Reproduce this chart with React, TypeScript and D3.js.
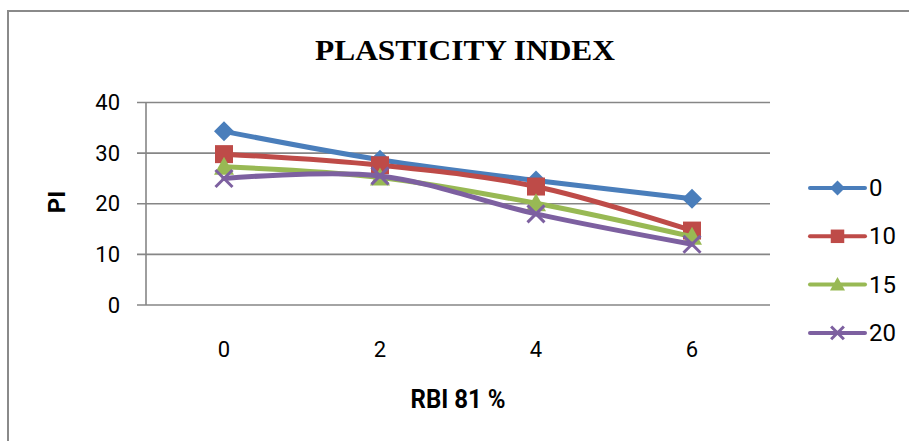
import React from "react";
import * as d3 from "d3";

const categories = ["0", "2", "4", "6"];
const seriesNames = ["0", "10", "15", "20"];
const series0 = [34.3, 28.7, 24.6, 21.0];
const series10 = [29.8, 27.6, 23.4, 14.7];
const series15 = [27.3, 25.2, 20.1, 13.5];
const series20 = [25.0, 25.5, 18.0, 12.0];
const yTicks = [0, 10, 20, 30, 40];
const colors = ["#4A7EBB", "#BE4B48", "#98B954", "#7D60A0"];
const markers = ["diamond", "square", "triangle", "x"];

const allSeries = [series0, series10, series15, series20];

function Marker({ type, x, y, size, color }: { type: string; x: number; y: number; size: number; color: string }) {
  const h = size / 2;
  if (type === "diamond") {
    return <path d={`M${x},${y - h}L${x + h},${y}L${x},${y + h}L${x - h},${y}Z`} fill={color} />;
  }
  if (type === "square") {
    const s = h * 0.9;
    return <rect x={x - s} y={y - s} width={2 * s} height={2 * s} fill={color} />;
  }
  if (type === "triangle") {
    return <path d={`M${x},${y - h}L${x + h},${y + h * 0.8}L${x - h},${y + h * 0.8}Z`} fill={color} />;
  }
  const s = h * 0.85;
  return (
    <path
      d={`M${x - s},${y - s}L${x + s},${y + s}M${x - s},${y + s}L${x + s},${y - s}`}
      stroke={color}
      strokeWidth={3}
      fill="none"
    />
  );
}

export default function App() {
  const W = 909;
  const H = 441;
  const left = 146;
  const right = 770;
  const top = 102.5;
  const bottom = 305;

  const x = d3.scaleBand<string>().domain(categories).range([left, right]);
  const y = d3.scaleLinear().domain([0, 40]).range([bottom, top]);
  const cx = (c: string) => (x(c) as number) + x.bandwidth() / 2;

  const line = d3
    .line<number>()
    .x((_, i) => cx(categories[i]))
    .y((d) => y(d))
    .curve(d3.curveCardinal.tension(0));

  const font = "Roboto, 'Liberation Sans', sans-serif";
  const grid = "#868686";

  return (
    <svg width={W} height={H} style={{ position: "absolute", left: 0, top: 0 }}>
      <rect x={0} y={0} width={W} height={H} fill="#fff" />
      <rect x={8} y={11} width={W + 20} height={H + 20} fill="none" stroke="#8a8a8a" strokeWidth={2} />
      <text
        x={465}
        y={60}
        textAnchor="middle"
        fontFamily="'Liberation Serif', 'Times New Roman', serif"
        fontWeight="bold"
        fontSize={30}
        textLength={300}
        lengthAdjust="spacingAndGlyphs"
      >
        PLASTICITY INDEX
      </text>

      {yTicks.map((t) => (
        <g key={t}>
          <line x1={137} x2={right} y1={y(t)} y2={y(t)} stroke={grid} strokeWidth={1.6} />
          <text x={120} y={y(t)} textAnchor="end" dominantBaseline="central" fontFamily={font} fontSize={22} fill="#000">
            {t}
          </text>
        </g>
      ))}
      <line x1={left} x2={left} y1={top} y2={bottom} stroke={grid} strokeWidth={1.6} />

      {categories.map((c) => (
        <text key={c} x={cx(c)} y={349} textAnchor="middle" dominantBaseline="central" fontFamily={font} fontSize={22} fill="#000">
          {c}
        </text>
      ))}

      <text
        x={458}
        y={408}
        textAnchor="middle"
        fontFamily={font}
        fontWeight="bold"
        fontSize={25}
        textLength={95}
        lengthAdjust="spacingAndGlyphs"
      >
        RBI 81 %
      </text>
      <text
        transform="translate(65,202) rotate(-90)"
        textAnchor="middle"
        fontFamily={font}
        fontWeight="bold"
        fontSize={24}
      >
        PI
      </text>

      {allSeries.map((s, si) => (
        <g key={si}>
          <path d={line(s) || ""} fill="none" stroke={colors[si]} strokeWidth={5} strokeLinejoin="round" strokeLinecap="round" />
          {s.map((v, i) => (
            <Marker key={i} type={markers[si]} x={cx(categories[i])} y={y(v)} size={20} color={colors[si]} />
          ))}
        </g>
      ))}

      {seriesNames.map((n, i) => {
        const ly = 188 + i * 48.3;
        return (
          <g key={n}>
            <line x1={810} x2={865} y1={ly} y2={ly} stroke={colors[i]} strokeWidth={4} strokeLinecap="round" />
            <Marker type={markers[i]} x={837.5} y={ly} size={15} color={colors[i]} />
            <text x={869} y={ly} dominantBaseline="central" fontFamily={font} fontSize={24} fill="#000">
              {n}
            </text>
          </g>
        );
      })}
    </svg>
  );
}
